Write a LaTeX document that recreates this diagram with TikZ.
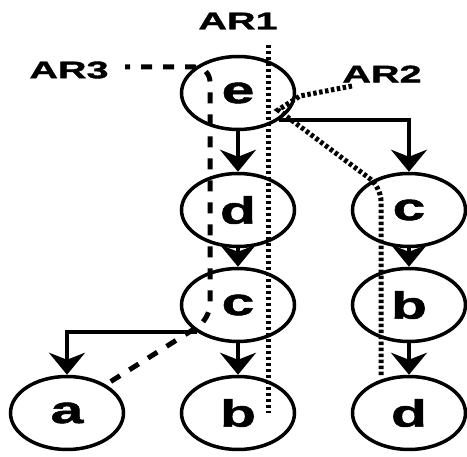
\documentclass[tikz,border=0pt]{standalone}
\usepackage{fontspec}
\usepackage{tikz}
\usetikzlibrary{arrows.meta,shapes.geometric}
\newfontfamily\nodefont{Liberation Sans}[FakeStretch=1.55, FakeBold=1.5]
\newfontfamily\labelfont{Liberation Sans}[FakeStretch=1.65, FakeBold=1.5]

\begin{document}
\begin{tikzpicture}[x=1pt, y=-1pt,
		state/.style={ellipse, draw, line width=3.5pt, minimum width=113pt, minimum height=73pt, inner sep=0pt, font=\nodefont\bfseries\fontsize{38}{38}\selectfont},
		arrow/.style={line width=3.5pt, -{Stealth[length=22pt, width=36pt, inset=7pt]}},
		route/.style={inner sep=0pt, font=\labelfont\bfseries\fontsize{24}{24}\selectfont},
		dotline/.style={line width=5pt, dash pattern=on 3.5pt off 2.5pt},
		dashline/.style={line width=5pt, dash pattern=on 11pt off 11pt, dash phase=6pt, rounded corners=15pt}
	]
		\useasboundingbox (0,0) rectangle (467,457);
		% Nodes
		\node[state] (e) at (238,93) {e};
		\node[state] (d) at (238,210) {d};
		\node[state] (cR) at (409,210) {c};
		\node[state] (cM) at (238,305) {c};
		\node[state] (bR) at (409,305) {b};
		\node[state] (a) at (67,413) {a};
		\node[state] (bM) at (238,413) {b};
		\node[state] (dR) at (409,413) {d};
		
		% Arrows
		\draw[arrow] (e) -- (d);
		\draw[arrow] (e.south east) -| (cR);
		\draw[arrow] (d) -- (cM);
		\draw[arrow] (cM.south west) -| (a);
		\draw[arrow] (cM) -- (bM);
		\draw[arrow] (cR) -- (bR);
		\draw[arrow] (bR) -- (dR);
		
		% Labels
		\node[route] (ar1) at (238,21) {AR1};
		\node[route] (ar2) at (382,74) {AR2};
		\node[route] (ar3) at (69,70) {AR3};
		
		% Routes
		\coordinate (ar1top) at (268,45);
		\coordinate (ar1bot) at (268,413);
		\draw[dotline] (ar1top) -- (ar1bot);
		
		\coordinate (ar2start) at (352,86);
		\coordinate (ar2mid) at (300,96);
		\coordinate (ar2turn) at (278,110);
		\coordinate (ar2bend) at (381,187);
		\coordinate (ar2end) at (381,377);
		\draw[dotline] (ar2start) -- (ar2mid) -- (ar2turn) [rounded corners=14pt] -- (ar2bend) -- (ar2end);
		
		\coordinate (ar3start) at (125,67);
		\coordinate (ar3top) at (210,67);
		\coordinate (ar3low) at (210,319);
		\coordinate (ar3end) at (110,382);
		\draw[dashline] (ar3start) -- (ar3top) -- (ar3low) -- (ar3end);
	\end{tikzpicture}
\end{document}
